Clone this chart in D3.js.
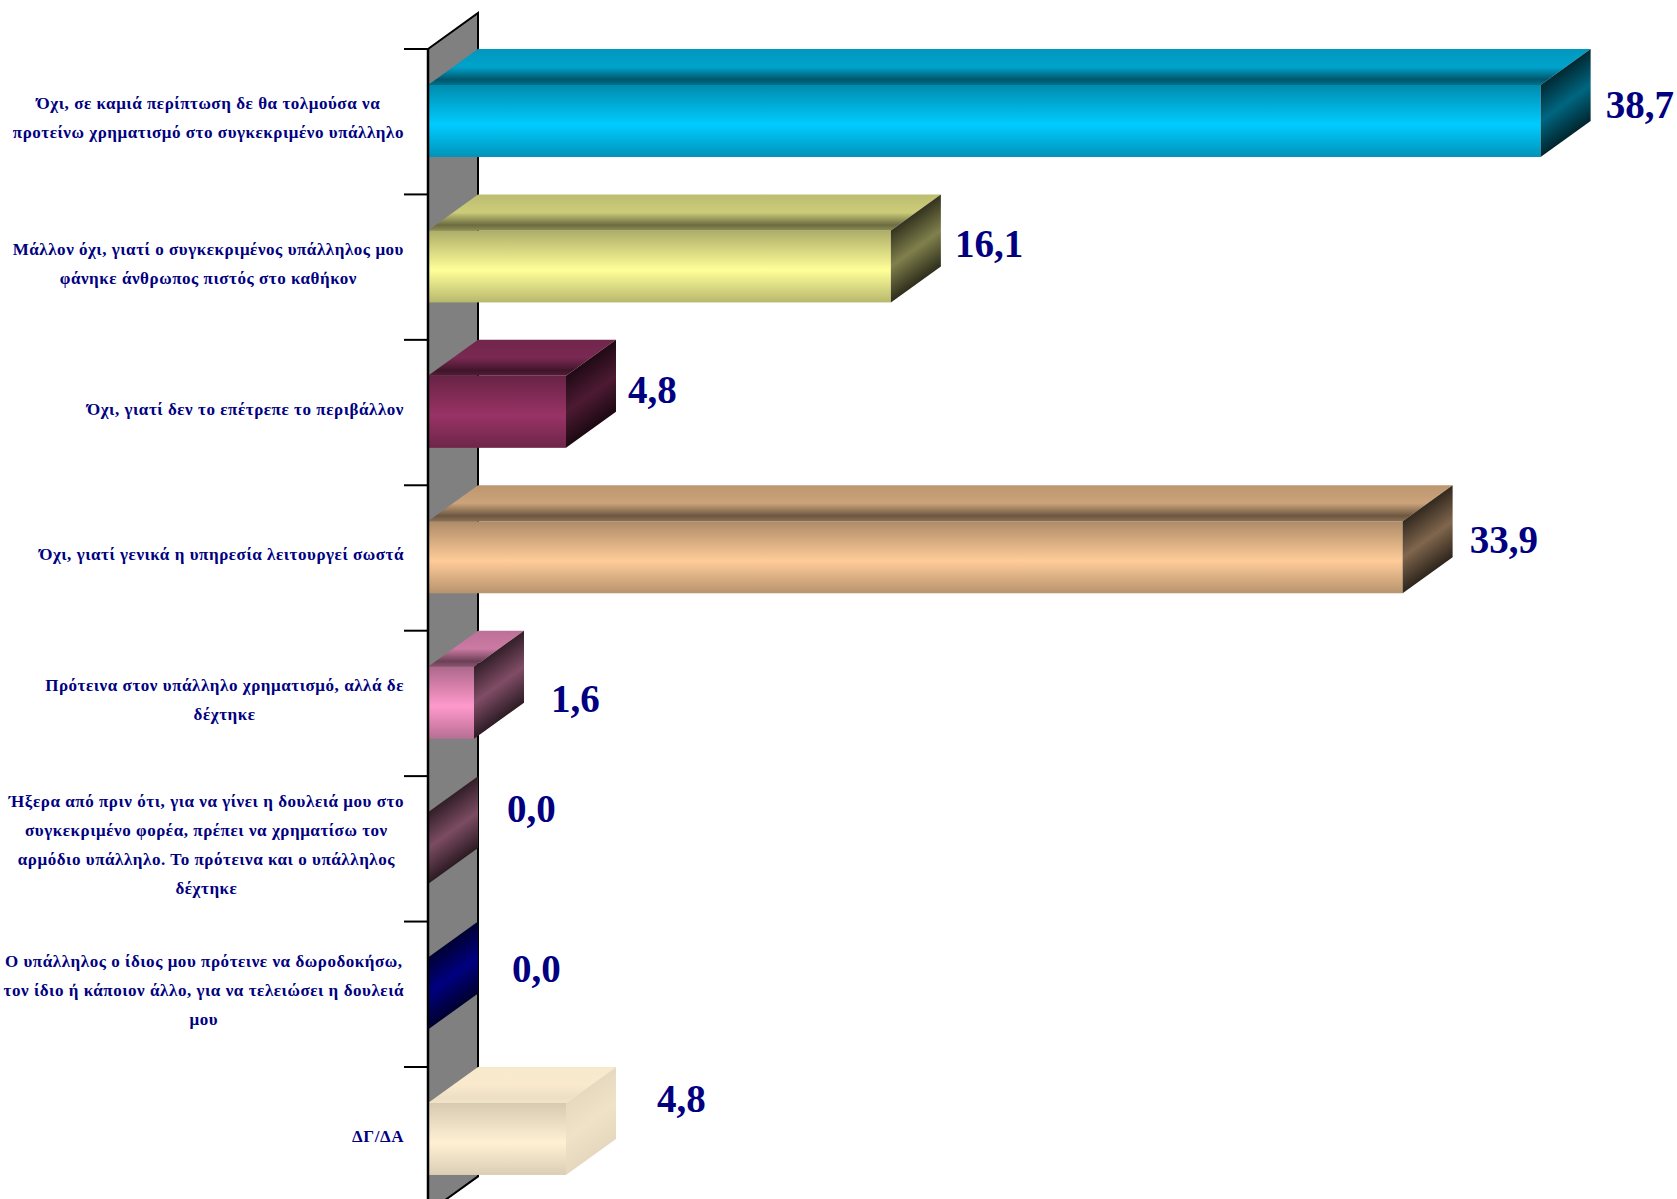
<!DOCTYPE html>
<html>
<head>
<meta charset="utf-8">
<script src="https://cdn.jsdelivr.net/npm/d3@7"></script>
<style>
  body { margin: 0; background: #fff; }
</style>
</head>
<body>
<svg id="chart" width="1677" height="1199"></svg>
<script>
// data
var categories = [
  "Όχι, σε καμιά περίπτωση δε θα τολμούσα να\nπροτείνω χρηματισμό στο συγκεκριμένο υπάλληλο",
  "Μάλλον όχι, γιατί ο συγκεκριμένος υπάλληλος μου\nφάνηκε άνθρωπος πιστός στο καθήκον",
  "Όχι, γιατί δεν το επέτρεπε το περιβάλλον",
  "Όχι, γιατί γενικά η υπηρεσία λειτουργεί σωστά",
  "Πρότεινα στον υπάλληλο χρηματισμό, αλλά δε\nδέχτηκε",
  "Ήξερα από πριν ότι, για να γίνει η δουλειά μου στο\nσυγκεκριμένο φορέα, πρέπει να χρηματίσω τον\nαρμόδιο υπάλληλο. Το πρότεινα και ο υπάλληλος\nδέχτηκε",
  "Ο υπάλληλος ο ίδιος μου πρότεινε να δωροδοκήσω,\nτον ίδιο ή κάποιον άλλο, για να τελειώσει η δουλειά\nμου",
  "ΔΓ/ΔΑ"
];
var values = [38.7, 16.1, 4.8, 33.9, 1.6, 0.0, 0.0, 4.8];

// styles
var barColors = ["#00CCFF", "#FFFF99", "#993366", "#FFCC99", "#FF99CC", "#F797C4", "#0000FF", "#FFF0D3"];
var shadeStrength = [[1, 1], [1, 1], [1, 1], [1, 1], [1, 1], [1, 1], [1, 1], [0.5, 0.12]]; // front, top+side
// value labels were moved by hand in the original
var labelNudge = [[1, 2], [0, -4], [-2, -4], [3, 1], [13, 14], [15, -21], [20, -7], [27, -22]];

var svg = d3.select("#chart");
var defs = svg.append("defs");
var depthX = 50, depthY = 36;
var x = d3.scaleLinear().domain([0, 40]).range([428, 1578]);
var y = d3.scaleBand().domain(d3.range(values.length)).range([49, 1212.4]);
var bw = y.bandwidth();
var frontH = bw * 0.495;
var navy = "#000080";
var fmt = d3.formatLocale({decimal: ",", thousands: ".", grouping: [3], currency: ["", "€"]}).format(".1f");

function shade(c, k, s) {
  var f = 1 - (1 - k) * s;
  c = d3.rgb(c);
  return d3.rgb(c.r * f, c.g * f, c.b * f).formatHex();
}

function makeGrad(id, color, stops, s) {
  var g = defs.append("linearGradient").attr("id", id)
    .attr("x1", 0).attr("y1", 0).attr("x2", 0).attr("y2", 1);
  stops.forEach(function (st) {
    g.append("stop").attr("offset", st[0]).attr("stop-color", shade(color, st[1], s));
  });
}

var frontStops = [[0, 0.68], [0.55, 1], [1, 0.72]];
var topStops = [[0, 0.74], [0.5, 0.8], [0.85, 0.42], [1, 0.55]];
var sideStops = [[0, 0.2], [0.5, 0.5], [1, 0.18]];

barColors.forEach(function (c, i) {
  makeGrad("front" + i, c, frontStops, shadeStrength[i][0]);
  makeGrad("top" + i, c, topStops, shadeStrength[i][1]);
  makeGrad("side" + i, c, sideStops, shadeStrength[i][1]);
});

// back wall
var x0 = x(0), yTop = y.range()[0], yBot = y.range()[1];
svg.append("polygon")
  .attr("points", [[x0, yTop], [x0 + depthX, yTop - depthY], [x0 + depthX, yBot - depthY], [x0, yBot]].join(" "))
  .attr("fill", "#808080");
svg.append("path")
  .attr("d", "M" + x0 + "," + yTop + "L" + (x0 + depthX) + "," + (yTop - depthY) +
    "L" + (x0 + depthX) + "," + (yBot - depthY) + "L" + x0 + "," + yBot)
  .attr("fill", "none").attr("stroke", "#000").attr("stroke-width", 2);

// ticks
svg.selectAll(".tick").data(d3.range(values.length + 1)).enter().append("line")
  .attr("x1", x0 - 24).attr("x2", x0)
  .attr("y1", function (k) { return yTop + k * bw; })
  .attr("y2", function (k) { return yTop + k * bw; })
  .attr("stroke", "#000").attr("stroke-width", 2);

// bars
var bars = svg.selectAll(".bar").data(values).enter().append("g").attr("class", "bar");
bars.each(function (v, i) {
  var g = d3.select(this);
  var ft = y(i) + depthY, x1 = x(v), w = x1 - x0;
  if (w > 0) {
    g.append("rect").attr("x", x0).attr("y", ft).attr("width", w).attr("height", frontH)
      .attr("fill", "url(#front" + i + ")");
    g.append("rect").attr("x", 0).attr("y", 0).attr("width", w).attr("height", depthY)
      .attr("transform", "matrix(1,0," + (-depthX / depthY) + ",1," + (x0 + depthX) + "," + (ft - depthY) + ")")
      .attr("fill", "url(#top" + i + ")");
  }
  g.append("rect").attr("x", 0).attr("y", 0).attr("width", depthX).attr("height", frontH)
    .attr("transform", "matrix(1," + (-depthY / depthX) + ",0,1," + x1 + "," + ft + ")")
    .attr("fill", "url(#side" + i + ")");
});

// axis line in front
svg.append("line").attr("x1", x0).attr("x2", x0).attr("y1", yTop).attr("y2", yBot)
  .attr("stroke", "#000").attr("stroke-width", 2.5);

// value labels
svg.selectAll(".val").data(values).enter().append("text")
  .attr("x", function (v, i) { return x(v) + depthX + 14 + labelNudge[i][0]; })
  .attr("y", function (v, i) { return y(i) + 67 + labelNudge[i][1]; })
  .attr("font-family", "'Liberation Serif', serif")
  .attr("font-weight", "bold")
  .attr("font-size", 39)
  .attr("fill", navy)
  .text(function (v) { return fmt(v); });

// category labels
var lineH = 29;
categories.forEach(function (c, i) {
  var lines = c.split("\n");
  var t = svg.append("text")
    .attr("font-family", "'Liberation Serif', serif")
    .attr("font-weight", "bold")
    .attr("font-size", 17)
    .attr("letter-spacing", 0.55)
    .attr("fill", navy)
    .attr("text-anchor", "middle");
  var cy = y(i) + bw / 2 - 3.5;
  lines.forEach(function (l, j) {
    t.append("tspan").attr("y", cy + (j - (lines.length - 1) / 2) * lineH + 5.5).text(l);
  });
  var maxW = 0;
  t.selectAll("tspan").each(function () { maxW = Math.max(maxW, this.getComputedTextLength()); });
  t.selectAll("tspan").attr("x", x0 - 24 - maxW / 2);
});
</script>
</body>
</html>
